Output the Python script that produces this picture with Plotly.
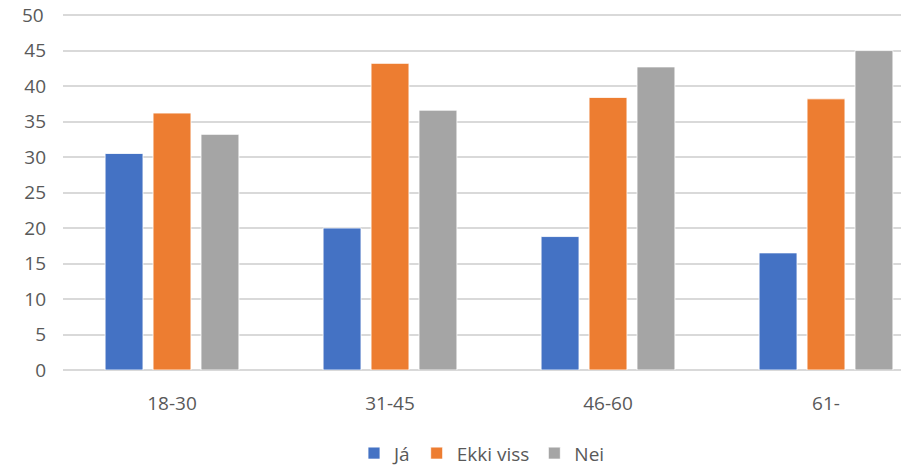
import plotly.graph_objects as go

categories = ["18-30", "31-45", "46-60", "61-"]
ja = [30.5, 20.0, 18.8, 16.5]
ekki_viss = [36.2, 43.2, 38.4, 38.2]
nei = [33.2, 36.6, 42.7, 45.0]
y_ticks = [0, 5, 10, 15, 20, 25, 30, 35, 40, 45, 50]

series = [("Já", ja, "#4472C4"), ("Ekki viss", ekki_viss, "#ED7D31"), ("Nei", nei, "#A5A5A5")]

fig = go.Figure()
for name, vals, color in series:
    fig.add_trace(go.Bar(
        x=categories, y=vals, name=name,
        marker=dict(color=color, line=dict(color="rgba(255,255,255,0.8)", width=1)),
    ))

font_family = "'Open Sans', 'Liberation Sans', sans-serif"
fs = 19
# top tick label is drawn as an annotation so plotly cannot hide it at the edge
tick_text = [str(t) for t in y_ticks[:-1]] + [""]

fig.update_layout(
    width=901, height=468,
    margin=dict(l=63, r=0, t=8, b=98, autoexpand=False),
    paper_bgcolor="white", plot_bgcolor="white",
    barmode="group", bargap=0.34, bargroupgap=0.21,
    font=dict(family=font_family, size=fs, color="#595959"),
    showlegend=True,
    legend=dict(orientation="h", x=0.5, xanchor="center", y=-0.23, yanchor="middle",
                font=dict(size=fs, color="#595959"), itemwidth=30, traceorder="normal"),
    xaxis=dict(range=[-0.5, 3.344], showgrid=False, showline=False, zeroline=False,
               ticks="", ticklabelstandoff=20, tickfont=dict(size=fs, color="#595959")),
    yaxis=dict(range=[0, 51], tickvals=y_ticks, ticktext=tick_text, showgrid=True,
               gridcolor="#D9D9D9", gridwidth=1.5,
               zeroline=True, zerolinecolor="#D9D9D9", zerolinewidth=1.5, showline=False,
               ticks="", ticklabelstandoff=16, tickfont=dict(size=fs, color="#595959")),
)

top_tick = y_ticks[-1]
fig.add_annotation(x=0, xref="paper", y=top_tick, yref="y", text=str(top_tick),
                   showarrow=False, xanchor="right", yanchor="middle", xshift=-17,
                   font=dict(size=fs, color="#595959", family=font_family))

fig.write_html("out.html", config={"displayModeBar": False},
               post_script="document.body.style.margin='0';")
